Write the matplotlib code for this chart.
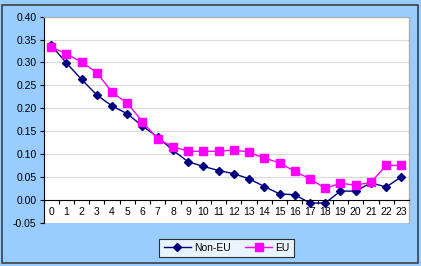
import numpy as np
import matplotlib.pyplot as plt
import matplotlib.patches as patches
import matplotlib.ticker as ticker

plt.rcParams['font.family'] = ['Liberation Sans', 'DejaVu Sans']

# ── DATA ─────────────────────────────────────────────────────────────────────
categories = [str(i) for i in range(24)]
non_eu = [0.338, 0.299, 0.263, 0.229, 0.205, 0.188, 0.161, 0.137, 0.108, 0.083,
          0.073, 0.064, 0.057, 0.046, 0.029, 0.013, 0.011, -0.007, -0.007, 0.019,
          0.019, 0.037, 0.028, 0.050]
eu = [0.334, 0.319, 0.301, 0.278, 0.235, 0.211, 0.171, 0.133, 0.116, 0.106,
      0.106, 0.106, 0.109, 0.104, 0.091, 0.081, 0.062, 0.046, 0.025, 0.036,
      0.032, 0.038, 0.075, 0.075]
y_ticks = [-0.05, 0.00, 0.05, 0.10, 0.15, 0.20, 0.25, 0.30, 0.35, 0.40]
# ─────────────────────────────────────────────────────────────────────────────

W, H = 421, 266
fig = plt.figure(figsize=(W / 100, H / 100), dpi=100)
fig.patch.set_facecolor("#99ccff")

# outer chart frame
fig.patches.append(patches.Rectangle((2 / W, 3 / H), 416 / W, 258 / H,
                                     transform=fig.transFigure, fill=False,
                                     edgecolor="#404040", linewidth=1.2))

ax = fig.add_axes([43.5 / W, 1 - 222.7 / H, (409 - 43.5) / W, (222.7 - 16.7) / H])
ax.set_facecolor("white")

x = np.arange(len(categories))
ax.plot(x, non_eu, marker="D", color="#000080", markersize=3.8, linewidth=1,
        label="Non-EU")
ax.plot(x, eu, marker="s", color="#ff00ff", markersize=5.2, linewidth=1,
        label="EU")

ax.set_xlim(-0.5, len(categories) - 0.5)
ax.set_ylim(-0.05, 0.40)
ax.set_yticks(y_ticks)
ax.yaxis.set_major_formatter(ticker.FormatStrFormatter("%.2f"))
for y in y_ticks[2:]:
    ax.axhline(y, color="#d9d9d9", linewidth=0.8, zorder=0)

# category axis sits at y = 0, tick marks between categories
ax.spines["bottom"].set_position(("data", 0))
ax.set_xticks(x)
ax.set_xticklabels(categories)
ax.tick_params(axis="x", which="major", length=0, pad=5, labelsize=7.5)
ax.set_xticks(np.arange(-0.5, len(categories)), minor=True)
ax.tick_params(axis="x", which="minor", length=3, direction="out", width=0.8)
ax.tick_params(axis="y", length=3, direction="out", width=0.8, labelsize=7.5, pad=2)

ax.spines["left"].set_color("black")
ax.spines["bottom"].set_color("black")
ax.spines["left"].set_linewidth(0.8)
ax.spines["bottom"].set_linewidth(0.8)
for side in ("top", "right"):
    ax.spines[side].set_color("#b0b0b0")
    ax.spines[side].set_linewidth(1.0)

leg = fig.legend(loc="center", bbox_to_anchor=(226.5 / W, 1 - 248 / H), ncol=2,
                 fontsize=7.5, frameon=True, fancybox=False, edgecolor="black",
                 handlelength=2.6, columnspacing=1.4, borderpad=0.4,
                 handletextpad=0.3)
leg.get_frame().set_linewidth(0.8)

plt.savefig("out.png", dpi=100, facecolor=fig.get_facecolor())
